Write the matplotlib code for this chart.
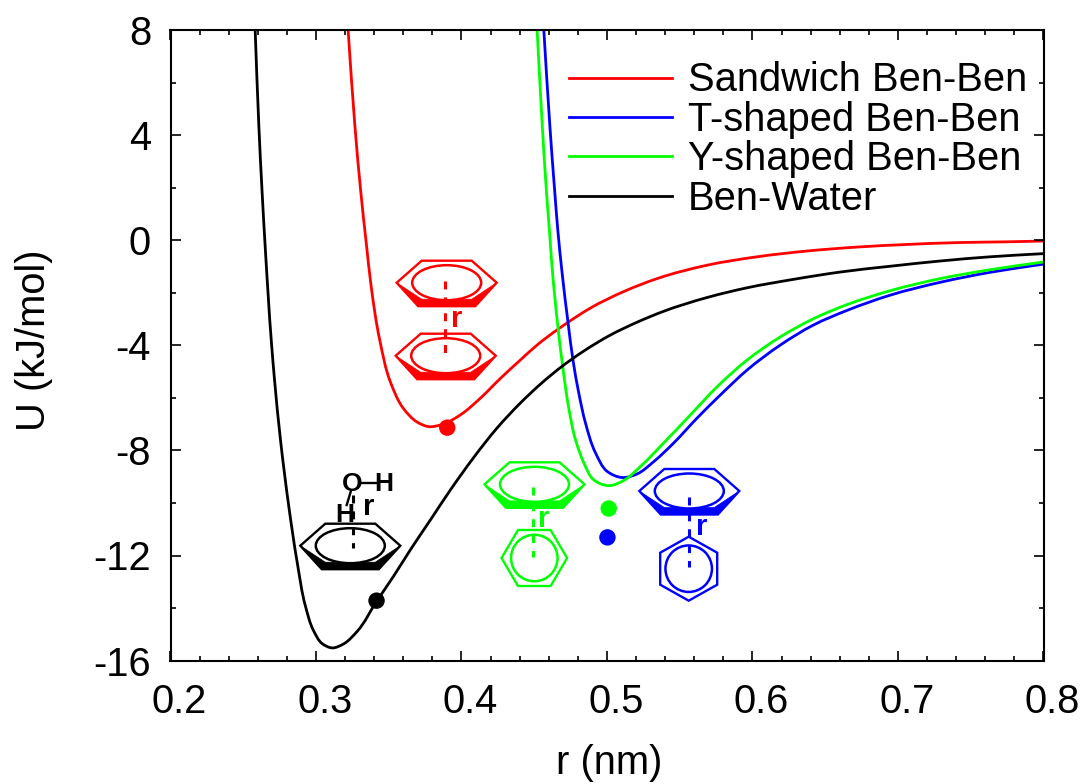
import numpy as np
import matplotlib
matplotlib.use('Agg')
import matplotlib.pyplot as plt
from matplotlib.patches import Ellipse, PathPatch, Polygon
from matplotlib.path import Path
from matplotlib.transforms import ScaledTranslation

plt.rcParams['font.family'] = ['Liberation Sans', 'DejaVu Sans']
plt.rcParams['axes.unicode_minus'] = False

# Curvas: r (nm), U (kJ/mol)
r_black = [0.2582, 0.2607, 0.2630, 0.2653, 0.2694, 0.2715, 0.2756, 0.2813, 0.2871, 0.2928, 0.2983, 0.3043,
           0.3111, 0.3189, 0.3283, 0.3416, 0.3533, 0.3649, 0.3787, 0.3924, 0.4082, 0.4245, 0.4405, 0.4543,
           0.4692, 0.4838, 0.5024, 0.5208, 0.5388, 0.5689, 0.5964, 0.6282, 0.6605, 0.6948, 0.7292, 0.7636, 0.8]
u_black = [8, 4.39, 1.80, -0.44, -3.91, -5.31, -7.60, -10.13, -12.27, -13.94, -14.86, -15.36,
           -15.52, -15.37, -14.89, -13.75, -12.79, -11.78, -10.64, -9.50, -8.28, -7.14, -6.19, -5.47,
           -4.79, -4.22, -3.60, -3.11, -2.70, -2.17, -1.80, -1.48, -1.20, -0.98, -0.78, -0.62, -0.5]

r_red = [0.3221, 0.3267, 0.3308, 0.3347, 0.3378, 0.3438, 0.3512, 0.3601, 0.3696, 0.3773, 0.3876, 0.3993,
         0.4131, 0.4268, 0.4405, 0.4520, 0.4658, 0.4726, 0.4887, 0.5113, 0.5345, 0.5689, 0.6032, 0.6376,
         0.6720, 0.7063, 0.7407, 0.7751, 0.8]
u_red = [8, 4.39, 1.84, -0.18, -1.70, -3.79, -5.40, -6.40, -6.92, -7.09, -6.99, -6.64,
         -6.0, -5.25, -4.55, -3.98, -3.40, -3.14, -2.57, -1.95, -1.45, -0.94, -0.62, -0.40,
         -0.25, -0.15, -0.08, -0.05, -0.02]

r_green = [0.4520, 0.4555, 0.4584, 0.4605, 0.4623, 0.4662, 0.4696, 0.4737, 0.4784, 0.4841, 0.4909, 0.5012,
           0.5115, 0.5230, 0.5390, 0.5574, 0.5757, 0.5964, 0.6192, 0.6419, 0.6651, 0.6948, 0.7292, 0.7636, 0.8]
u_green = [8, 4.39, 1.85, 0.32, -1.05, -3.26, -4.82, -6.38, -7.60, -8.47, -9.12, -9.34,
           -9.14, -8.61, -7.71, -6.64, -5.57, -4.55, -3.67, -2.98, -2.44, -1.91, -1.45, -1.11, -0.82]

r_blue = [0.4566, 0.4607, 0.4641, 0.4662, 0.4691, 0.4733, 0.4768, 0.4806, 0.4852, 0.4921, 0.5002,
          0.5104, 0.5208, 0.5322, 0.5459, 0.5620, 0.5780, 0.5964, 0.6192, 0.6419, 0.6651, 0.6948, 0.7292, 0.7636, 0.8]
u_blue = [8, 4.39, 1.85, 0.39, -1.21, -3.16, -4.62, -5.81, -6.95, -8.09, -8.80,
          -9.03, -8.89, -8.42, -7.71, -6.76, -5.88, -4.93, -3.98, -3.22, -2.66, -2.08, -1.59, -1.21, -0.90]

# Puntos sueltos
dot_r = [0.3902, 0.5012, 0.5003, 0.3416]
dot_u = [-7.13, -10.21, -11.31, -13.72]
dot_colors = ['#ff0000', '#00ff00', '#0000ff', '#000000']

series_names = ['Sandwich Ben-Ben', 'T-shaped Ben-Ben', 'Y-shaped Ben-Ben', 'Ben-Water']
x_ticks = [0.2, 0.3, 0.4, 0.5, 0.6, 0.7, 0.8]
y_ticks = [-16, -12, -8, -4, 0, 4, 8]


def smooth_curve(ax, xs, ys, color):
    """Dibuja la curva como bezier que pasa por los puntos leidos."""
    x = np.array(xs, dtype=float)
    y = np.array(ys, dtype=float)
    # tangentes calculadas en escala de pixeles, la x y la y tienen unidades muy distintas
    t = np.concatenate([[0], np.cumsum(np.hypot(np.diff(x) * 1455, np.diff(y) * 26.3))])
    dx = np.gradient(x, t)
    dy = np.gradient(y, t)
    verts = [(x[0], y[0])]
    codes = [Path.MOVETO]
    for i in range(len(x) - 1):
        h = (t[i + 1] - t[i]) / 3
        verts += [(x[i] + dx[i] * h, y[i] + dy[i] * h),
                  (x[i + 1] - dx[i + 1] * h, y[i + 1] - dy[i + 1] * h),
                  (x[i + 1], y[i + 1])]
        codes += [Path.CURVE4, Path.CURVE4, Path.CURVE4]
    ax.add_patch(PathPatch(Path(verts, codes), fill=False, ec=color, lw=2.0))


def flat_ring(ax, cx, cy, color):
    """Anillo de benceno visto en perspectiva, con el borde inferior grueso."""
    outer = [(-50, 0), (-25, -22), (25, -22), (50, 0), (28.5, 23.5), (-28.5, 23.5)]
    wedge = [(-50, 0), (-28.5, 23.5), (28.5, 23.5), (50, 0), (25, 16.5), (-25, 16.5)]
    ax.add_patch(Polygon([(cx + a, cy + b) for a, b in outer], closed=True, fill=False, ec=color, lw=1.7))
    ax.add_patch(Polygon([(cx + a, cy + b) for a, b in wedge], closed=True, fc=color, ec=color, lw=0.5))
    ax.add_patch(Ellipse((cx, cy), 69, 35, fc='white', ec=color, lw=1.8))


def upright_ring(ax, cx, cy, color, pointy=False):
    """Anillo de benceno visto de frente."""
    if pointy:
        pts = [(0, -32), (28.5, -16), (28.5, 16), (0, 32), (-28.5, 16), (-28.5, -16)]
    else:
        pts = [(-16.3, -28), (16.3, -28), (32.8, 0), (16.3, 28), (-16.3, 28), (-32.8, 0)]
    ax.add_patch(Polygon([(cx + a, cy + b) for a, b in pts], closed=True, fill=False, ec=color, lw=1.7))
    ax.add_patch(Ellipse((cx, cy), 46.5, 46.5, fill=False, ec=color, lw=1.8))


def dashes(ax, x, y0, y1, color):
    ax.plot([x, x], [y0, y1], color=color, lw=2.2, dashes=(2.6, 2.6), dash_capstyle='butt')


fig = plt.figure(figsize=(10.84, 7.84), dpi=100)
ax = fig.add_axes([170.5 / 1084, 1 - 660.5 / 784, 873 / 1084, 630 / 784])

smooth_curve(ax, r_red, u_red, '#ff0000')
smooth_curve(ax, r_blue, u_blue, '#0000ff')
smooth_curve(ax, r_green, u_green, '#00ff00')
smooth_curve(ax, r_black, u_black, '#000000')
ax.scatter(dot_r, dot_u, c=dot_colors, s=140, linewidths=0, zorder=5)

# Muestras de la leyenda
for name, col in zip(series_names, ['#ff0000', '#0000ff', '#00ff00', '#000000']):
    ax.plot([], [], color=col, lw=2.0, label=name)

ax.set_xlim(0.2, 0.8)
ax.set_ylim(-16, 8)
ax.set_xticks(x_ticks)
ax.set_xticks(np.arange(0.2, 0.81, 0.02), minor=True)
ax.set_yticks(y_ticks)
ax.set_yticks(np.arange(-16, 9, 2), minor=True)
ax.set_xticklabels([str(t) for t in x_ticks])
ax.set_yticklabels([str(t) for t in y_ticks])
ax.tick_params(which='major', direction='in', top=True, right=True, length=7.2, width=1.2, labelsize=28.7)
ax.tick_params(which='minor', direction='in', top=True, right=True, length=3.6, width=1.2)
ax.tick_params(axis='x', which='major', pad=16.5)
ax.tick_params(axis='y', which='major', pad=14)
for s in ax.spines.values():
    s.set_linewidth(1.5)

# Las etiquetas del eje x van algo desplazadas a la derecha en el original
shift = ScaledTranslation(9 / 100, 0, fig.dpi_scale_trans)
for lab in ax.get_xticklabels():
    lab.set_transform(lab.get_transform() + shift)

ax.set_xlabel('r (nm)', fontsize=28.7, labelpad=16.5, x=0.503)
ax.set_ylabel('U (kJ/mol)', fontsize=28.7, labelpad=29, y=0.508)

ax.legend(loc='upper left', bbox_to_anchor=(398.5 / 873, 1 - 31 / 630), frameon=False, fontsize=28.7,
          handlelength=2.58, handletextpad=0.41, labelspacing=0.035, borderpad=0, borderaxespad=0)

# Capa en pixeles para los dibujos de las moleculas
ov = fig.add_axes([0, 0, 1, 1], facecolor='none')
ov.set_xlim(0, 1084)
ov.set_ylim(784, 0)
ov.axis('off')

flat_ring(ov, 446.7, 282.7, '#ff0000')
flat_ring(ov, 445.7, 355.7, '#ff0000')
dashes(ov, 444.7, 281, 354, '#ff0000')
ov.text(456.7, 319, 'r', color='#ff0000', fontsize=21, fontweight='bold', ha='center', va='center')

flat_ring(ov, 534.5, 484.3, '#00ff00')
upright_ring(ov, 534.3, 558, '#00ff00')
dashes(ov, 533.3, 486.7, 557, '#00ff00')
ov.text(544, 519, 'r', color='#00ff00', fontsize=21, fontweight='bold', ha='center', va='center')

flat_ring(ov, 689.3, 491, '#0000ff')
upright_ring(ov, 688.7, 568.7, '#0000ff', pointy=True)
dashes(ov, 688.7, 496.7, 567.3, '#0000ff')
ov.text(701.7, 527, 'r', color='#0000ff', fontsize=21, fontweight='bold', ha='center', va='center')

flat_ring(ov, 350.3, 545.7, '#000000')
dashes(ov, 352.7, 495, 548, '#000000')
ov.plot([360, 378.3], [482.7, 482.7], color='k', lw=1.7)
ov.plot([350.7, 346.7], [491.7, 505], color='k', lw=1.7)
ov.text(351.7, 483.5, 'O', color='k', fontsize=19, fontweight='bold', ha='center', va='center')
ov.text(383.3, 483.5, 'H', color='k', fontsize=19, fontweight='bold', ha='center', va='center')
ov.text(344.3, 514.5, 'H', color='k', fontsize=19, fontweight='bold', ha='center', va='center')
ov.text(368.3, 507, 'r', color='k', fontsize=21, fontweight='bold', ha='center', va='center')

plt.savefig('out.png', dpi=100)
plt.close(fig)
